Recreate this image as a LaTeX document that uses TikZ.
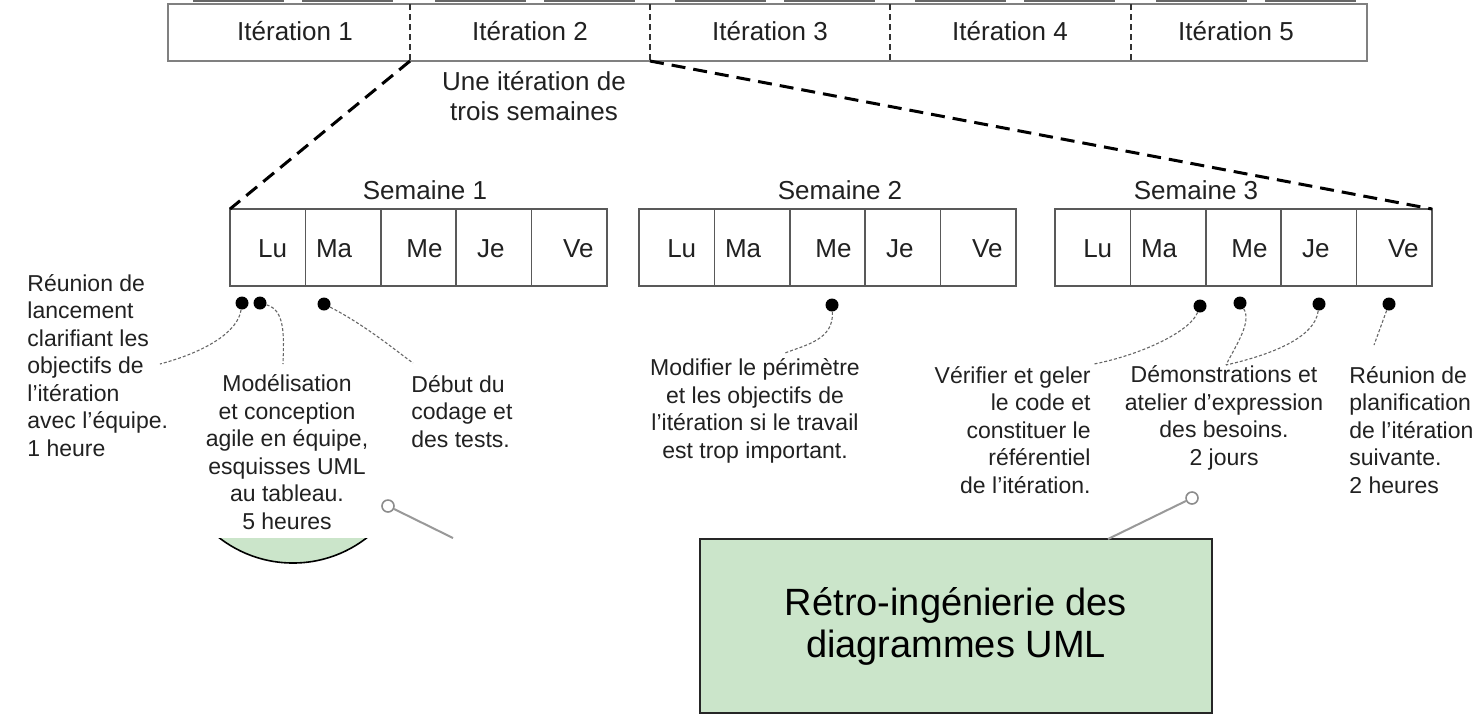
\documentclass[tikz,border=0pt]{standalone}
\usepackage{fontspec}
\setmainfont{Liberation Sans}
\usetikzlibrary{positioning,calc}
\definecolor{vertpale}{HTML}{CBE5CA}
\definecolor{encre}{gray}{0.13}

\begin{document}
\begin{tikzpicture}[x=0.5pt,y=-0.5pt]
\tikzstyle{cadre}=[draw=black!50,line width=0.8pt]
\tikzstyle{jour}=[draw=black!65,line width=0.75pt]
\tikzstyle{agrandi}=[line width=1.5pt,dash pattern=on 7pt off 4pt]
\tikzstyle{iter}=[text=encre,inner sep=0pt,font=\fontsize{13}{15}\selectfont]
\tikzstyle{texte}=[text=encre,inner sep=0pt,font=\fontsize{11.5}{13.75}\selectfont]
\tikzstyle{puce}=[circle,fill=black,inner sep=0pt,minimum size=6.5pt]
\tikzstyle{fil}=[draw=black!60,line width=0.55pt,dash pattern=on 1.5pt off 1pt]
\tikzstyle{anneau}=[circle,draw=black!45,fill=white,line width=0.8pt,inner sep=0pt,minimum size=6pt]
\tikzstyle{trait}=[draw=black!40,line width=1pt]

\useasboundingbox (0,0) rectangle (1475,714);
\fill [white] (0,0) rectangle (1475,714);

\foreach \xa in {168,410,650,890,1131}
  \draw [black!60,line width=0.8pt] (\xa+25,0.8) -- (\xa+116,0.8) (\xa+134,0.8) -- (\xa+225,0.8);
\draw [cadre] (168,4) rectangle (1367,61);
\foreach \xa in {410,650,890,1131}
  \draw [black!80,line width=0.9pt,densely dashed] (\xa,4) -- (\xa,61);
\foreach \i/\xc in {1/295,2/530,3/770,4/1010,5/1236}
  \node [iter,anchor=base] (it\i) at (\xc,40) {Itération \i};
\coordinate (it2sw) at (410,61);
\coordinate (it2se) at (650,61);

\node [iter,align=center,anchor=base] (duree) at (534,120) {Une itération de\\trois semaines};

\foreach \w/\xa/\xt in {1/230/425,2/639/840,3/1055/1196} {
  \draw [jour] (\xa,209) rectangle (\xa+377,286);
  \foreach \k in {1,...,4}
    \draw [jour] (\xa+75.4*\k,209) -- (\xa+75.4*\k,286);
  \foreach \d/\dx [count=\k from 0] in {Lu/5,Ma/-9,Me/6,Je/-3,Ve/9}
    \node [iter,anchor=base] (s\w\d) at (\xa+75.4*\k+37.7+\dx,257) {\d};
  \node [iter,anchor=base] (sem\w) at (\xt,199) {Semaine \w};
}
\coordinate (s1nw) at (230,209);
\coordinate (s3ne) at (1432,209);
\draw [agrandi] (it2sw) -- (s1nw);
\draw [agrandi] (it2se) -- (s3ne);

\foreach \n/\xp/\yp in {1/242/303,2/260/303,3/324/304,4/832/305,5/1200/306,6/1240/303,7/1319/304,8/1389/304}
  \node [puce] (p\n) at (\xp,\yp) {};

\node [texte,align=left,anchor=base west] (lancement) at (27,456) {Réunion de\\lancement\\clarifiant les\\objectifs de\\l'itération\\avec l'équipe.\\1 heure};
\node [texte,align=center,anchor=base] (modelisation) at (287,529) {Modélisation\\et conception\\agile en équipe,\\esquisses UML\\au tableau.\\5 heures};
\node [texte,align=left,anchor=base west] (codage) at (411,447) {Début du\\codage et\\des tests.};
\node [texte,align=center,anchor=base] (perimetre) at (755,458) {Modifier le périmètre\\et les objectifs de\\l'itération si le travail\\est trop important.};
\node [texte,align=right,anchor=base east] (geler) at (1091,493) {Vérifier et geler\\le code et\\constituer le\\référentiel\\de l'itération.};
\node [texte,align=center,anchor=base] (demo) at (1224,465) {Démonstrations et\\atelier d'expression\\des besoins.\\2 jours};
\node [texte,align=left,anchor=base west] (planif) at (1349,493) {Réunion de\\planification\\de l'itération\\suivante.\\2 heures};

\coordinate (l1) at (160,364);
\coordinate (l2) at (283,364);
\coordinate (l3) at (413,363);
\coordinate (l4) at (785,353);
\coordinate (l5) at (1094,364);
\coordinate (l6) at (1226,365);
\coordinate (l8) at (1374,345);
\draw [fil] (p1) .. controls (238,332) and (205,352) .. (l1);
\draw [fil] (p2) .. controls (285,310) and (284,335) .. (l2);
\draw [fil] (p3) .. controls (365,325) and (395,350) .. (l3);
\draw [fil] (p4) .. controls (834,340) and (805,345) .. (l4);
\draw [fil] (p5) .. controls (1190,332) and (1140,355) .. (l5);
\draw [fil] (p6) .. controls (1252,322) and (1236,345) .. (l6);
\draw [fil] (p7) .. controls (1315,338) and (1270,355) .. (l6);
\draw [fil] (p8) -- (l8);

\node [draw=black!85,line width=0.8pt,fill=vertpale,minimum width=256pt,minimum height=87pt,inner sep=0pt,align=center,font=\fontsize{19}{21}\selectfont] (retro) at (956,626) {Rétro-ingénierie des\\diagrammes UML};

\begin{scope}
\clip (150,538) rectangle (450,620);
\draw [black,line width=0.8pt,fill=vertpale] (293,442.5) circle (120.5);
\end{scope}

\node [anneau] (a1) at (388,506) {};
\coordinate (a1fin) at (453,538);
\draw [trait] (a1) -- (a1fin);
\node [anneau] (a2) at (1192,498) {};
\coordinate (a2fin) at (1108,539);
\draw [trait] (a2) -- (a2fin);
\end{tikzpicture}
\end{document}
